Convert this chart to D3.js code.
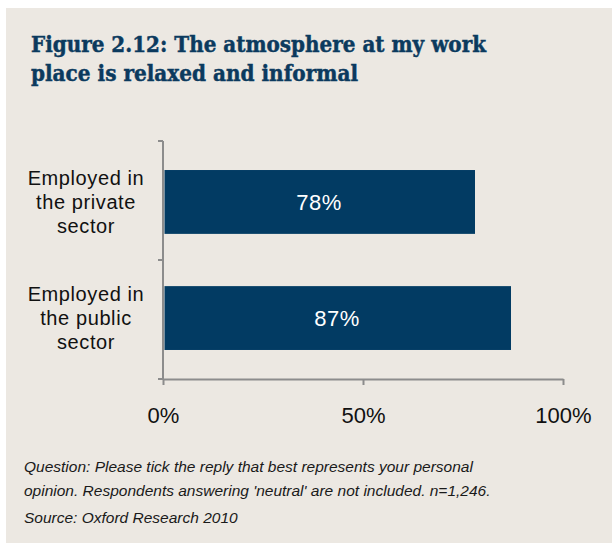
<!DOCTYPE html>
<html>
<head>
<meta charset="utf-8">
<script src="https://cdn.jsdelivr.net/npm/d3@7"></script>
<style>
  html, body { margin: 0; padding: 0; background: #ffffff; }
  svg { display: block; }
</style>
</head>
<body>
<svg id="chart" width="613" height="545"></svg>
<script>
// Share agreeing that the work atmosphere is relaxed and informal
const categories = [
  ["Employed in", "the private", "sector"],
  ["Employed in", "the public", "sector"]
];
const values = [78, 87];
const tickValues = [0, 50, 100];
const titleLines = [
  "Figure 2.12:  The atmosphere  at my work",
  "place is relaxed  and informal"
];
const noteLines = [
  "Question: Please tick the reply that best represents your personal",
  "opinion. Respondents answering 'neutral' are not included. n=1,246."
];
const sourceLine = "Source: Oxford Research 2010";

const svg = d3.select("#chart");
const navy = "#023b63";
const axisGrey = "#8c8c8c";

// panel background
svg.append("rect")
  .attr("x", 6).attr("y", 8)
  .attr("width", 606).attr("height", 535)
  .attr("fill", "#ece8e2");

// title
const title = svg.append("g")
  .attr("font-family", "'DejaVu Serif', serif")
  .attr("font-weight", "bold")
  .attr("fill", "#0b3a5e")
  .attr("stroke", "#0b3a5e")
  .attr("stroke-width", 0.5);
const titleWidths = [455, 327];
titleLines.forEach((t, i) => {
  title.append("text")
    .attr("x", 31).attr("y", 52 + i * 29)
    .attr("font-size", 23)
    .attr("textLength", titleWidths[i])
    .attr("lengthAdjust", "spacingAndGlyphs")
    .text(t);
});

// scales
const keys = categories.map((c, i) => i);
const x = d3.scaleLinear().domain([0, 100]).range([163, 563]);
const y = d3.scaleBand().domain(keys).range([141, 379])
  .paddingInner(0.45).paddingOuter(0.25);

// bars
svg.append("g").selectAll("rect")
  .data(values)
  .join("rect")
  .attr("x", x(0) + 1.5)
  .attr("y", (d, i) => y(i))
  .attr("width", d => x(d) - x(0) - 1.5)
  .attr("height", y.bandwidth())
  .attr("fill", navy);

// value labels
svg.append("g").selectAll("text")
  .data(values)
  .join("text")
  .attr("x", d => (x(0) + x(d)) / 2)
  .attr("y", (d, i) => y(i) + y.bandwidth() / 2)
  .attr("dy", "0.36em")
  .attr("text-anchor", "middle")
  .attr("font-family", "'Liberation Sans', Arial, sans-serif")
  .attr("font-size", 22)
  .attr("letter-spacing", 0.5)
  .attr("fill", "#ffffff")
  .text(d => d + "%");

// vertical axis with category boundary ticks
const yAxis = svg.append("g").attr("stroke", axisGrey).attr("stroke-width", 2);
yAxis.append("line")
  .attr("x1", x(0)).attr("x2", x(0))
  .attr("y1", 141).attr("y2", 380);
const boundaries = [141].concat(keys.map(k => k === keys.length - 1 ? 379 : (y(k) + y.bandwidth() + y(k + 1)) / 2));
yAxis.selectAll("line.tick")
  .data(boundaries)
  .join("line")
  .attr("class", "tick")
  .attr("x1", x(0) - 5).attr("x2", x(0))
  .attr("y1", d => d).attr("y2", d => d);

// category labels
const catG = svg.append("g")
  .attr("font-family", "'Liberation Sans', Arial, sans-serif")
  .attr("font-size", 20)
  .attr("letter-spacing", 0.6)
  .attr("fill", "#111111")
  .attr("text-anchor", "middle");
categories.forEach((lines, i) => {
  const cy = y(i) + y.bandwidth() / 2;
  lines.forEach((ln, j) => {
    catG.append("text")
      .attr("x", 86)
      .attr("y", cy + (j - 1) * 24)
      .attr("dy", "0.36em")
      .text(ln);
  });
});

// horizontal axis
const xAxis = svg.append("g")
  .attr("transform", "translate(0,379)")
  .call(d3.axisBottom(x).tickValues(tickValues).tickSize(6).tickSizeOuter(0)
    .tickFormat(d => d + "%"));
xAxis.select(".domain").attr("stroke", axisGrey).attr("stroke-width", 2);
xAxis.selectAll(".tick line").attr("stroke", axisGrey).attr("stroke-width", 2);
xAxis.selectAll(".tick text")
  .attr("y", 44).attr("dy", 0)
  .attr("font-family", "'Liberation Sans', Arial, sans-serif")
  .attr("font-size", 22)
  .attr("fill", "#111111");

// footnote and source
const notes = svg.append("g")
  .attr("font-family", "'Liberation Sans', Arial, sans-serif")
  .attr("font-style", "italic")
  .attr("font-size", 15.5)
  .attr("fill", "#1a1a1a");
noteLines.forEach((t, i) => {
  notes.append("text").attr("x", 24).attr("y", 472 + i * 24).text(t);
});
notes.append("text").attr("x", 24).attr("y", 523).text(sourceLine);
</script>
</body>
</html>
